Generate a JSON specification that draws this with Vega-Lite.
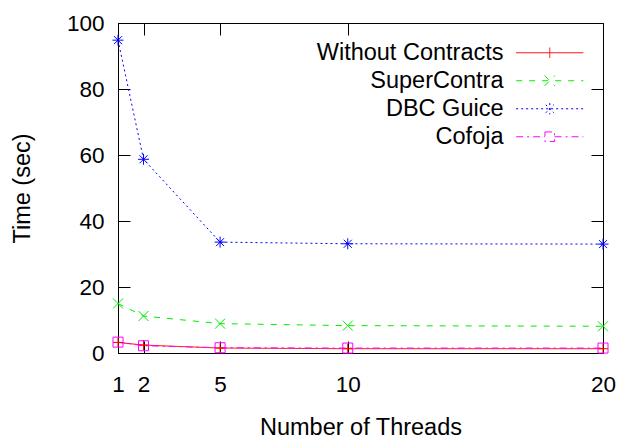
{
  "$schema": "https://vega.github.io/schema/vega-lite/v6.json",
  "width": 485,
  "height": 330,
  "autosize": {"type": "none"},
  "padding": {"left": 118, "top": 23, "right": 24, "bottom": 89},
  "background": "white",
  "config": {
    "view": {"stroke": "black", "strokeWidth": 1},
    "font": "Liberation Sans",
    "axis": {
      "domainColor": "black",
      "labelColor": "black",
      "titleColor": "black",
      "labelFont": "Liberation Sans",
      "titleFont": "Liberation Sans",
      "labelFontSize": 22.5,
      "titleFontSize": 23.5,
      "titleFontWeight": "normal",
      "ticks": false,
      "grid": true,
      "gridColor": "#000000",
      "gridOpacity": 1,
      "gridWidth": 1
    },
    "axisX": {"gridDash": [12, 306, 12, 400]},
    "axisY": {"gridDash": [12, 461, 12, 400]}
  },
  "data": {
    "values": [
      {"threads": 1, "series": "Without Contracts", "time": 3.2},
      {"threads": 2, "series": "Without Contracts", "time": 2.4},
      {"threads": 5, "series": "Without Contracts", "time": 1.5},
      {"threads": 10, "series": "Without Contracts", "time": 1.3},
      {"threads": 20, "series": "Without Contracts", "time": 1.3},
      {"threads": 1, "series": "SuperContra", "time": 15.0},
      {"threads": 2, "series": "SuperContra", "time": 11.2},
      {"threads": 5, "series": "SuperContra", "time": 8.9},
      {"threads": 10, "series": "SuperContra", "time": 8.3},
      {"threads": 20, "series": "SuperContra", "time": 8.1},
      {"threads": 1, "series": "DBC Guice", "time": 94.8},
      {"threads": 2, "series": "DBC Guice", "time": 58.7},
      {"threads": 5, "series": "DBC Guice", "time": 33.6},
      {"threads": 10, "series": "DBC Guice", "time": 33.1},
      {"threads": 20, "series": "DBC Guice", "time": 33.0},
      {"threads": 1, "series": "Cofoja", "time": 3.3},
      {"threads": 2, "series": "Cofoja", "time": 2.2},
      {"threads": 5, "series": "Cofoja", "time": 1.6},
      {"threads": 10, "series": "Cofoja", "time": 1.5},
      {"threads": 20, "series": "Cofoja", "time": 1.5}
    ]
  },
  "encoding": {
    "x": {
      "field": "threads", "type": "quantitative",
      "scale": {"domain": [1, 20], "nice": false, "zero": false},
      "axis": {"values": [1, 2, 5, 10, 20], "title": "Number of Threads", "labelPadding": 20, "titlePadding": 20, "labelFlush": false}
    },
    "y": {
      "field": "time", "type": "quantitative",
      "scale": {"domain": [0, 100], "nice": false},
      "axis": {"values": [0, 20, 40, 60, 80, 100], "title": "Time (sec)", "labelPadding": 14, "titlePadding": 32}
    },
    "color": {
      "field": "series", "type": "nominal",
      "scale": {"domain": ["Without Contracts", "SuperContra", "DBC Guice", "Cofoja"], "range": ["#ff0000", "#00ee00", "#0000ff", "#ff00ff"]},
      "legend": null
    }
  },
  "layer": [
    {
      "mark": {"type": "line", "strokeWidth": 1},
      "encoding": {
        "color": {
          "field": "series", "type": "nominal",
          "legend": {
            "title": null,
            "orient": "none",
            "legendX": 420,
            "legendY": 18,
            "padding": 0,
            "labelFont": "Liberation Sans",
            "labelFontSize": 23.5,
            "labelColor": "black",
            "labelAlign": "right",
            "labelOffset": -58,
            "labelLimit": 400,
            "symbolSize": 64,
            "symbolStrokeWidth": 1,
            "rowPadding": 3,
            "encode": {
              "symbols": {
                "update": {
                  "shape": {"signal": "datum.value === 'Without Contracts' ? 'M-8.4,0L8.4,0M0,-1.3L0,1.3' : datum.value === 'SuperContra' ? 'M-8.4,0L8.4,0M-1.3,-1.3L1.3,1.3M-1.3,1.3L1.3,-1.3' : datum.value === 'DBC Guice' ? 'M-8.4,0L8.4,0M0,-1.4L0,1.4M-1,-1L1,1M-1,1L1,-1' : 'M-8.4,0L-1.2,0M1.2,0L8.4,0M-1.2,-1.2L1.2,-1.2L1.2,1.2L-1.2,1.2Z'"},
                  "fill": {"value": "transparent"}
                }
              }
            }
          }
        },
        "strokeDash": {
          "field": "series", "type": "nominal",
          "scale": {"domain": ["Without Contracts", "SuperContra", "DBC Guice", "Cofoja"], "range": [[1, 0], [6, 7], [2, 3], [7, 4, 2, 4]]},
          "legend": null
        }
      }
    },
    {
      "transform": [{"filter": "datum.series === 'Without Contracts'"}],
      "mark": {"type": "point", "filled": false, "strokeWidth": 1, "size": 100, "opacity": 1, "shape": "M-1,0L1,0M0,-1L0,1"}
    },
    {
      "transform": [{"filter": "datum.series === 'SuperContra'"}],
      "mark": {"type": "point", "filled": false, "strokeWidth": 1, "size": 100, "opacity": 1, "shape": "M-1,-1L1,1M-1,1L1,-1"}
    },
    {
      "transform": [{"filter": "datum.series === 'DBC Guice'"}],
      "mark": {"type": "point", "filled": false, "strokeWidth": 1, "size": 100, "opacity": 1, "shape": "M-1.1,0L1.1,0M0,-1.1L0,1.1M-0.8,-0.8L0.8,0.8M-0.8,0.8L0.8,-0.8"}
    },
    {
      "transform": [{"filter": "datum.series === 'Cofoja'"}],
      "mark": {"type": "point", "filled": false, "strokeWidth": 1, "size": 100, "opacity": 1, "shape": "M-1,-1L1,-1L1,1L-1,1Z"}
    }
  ]
}
